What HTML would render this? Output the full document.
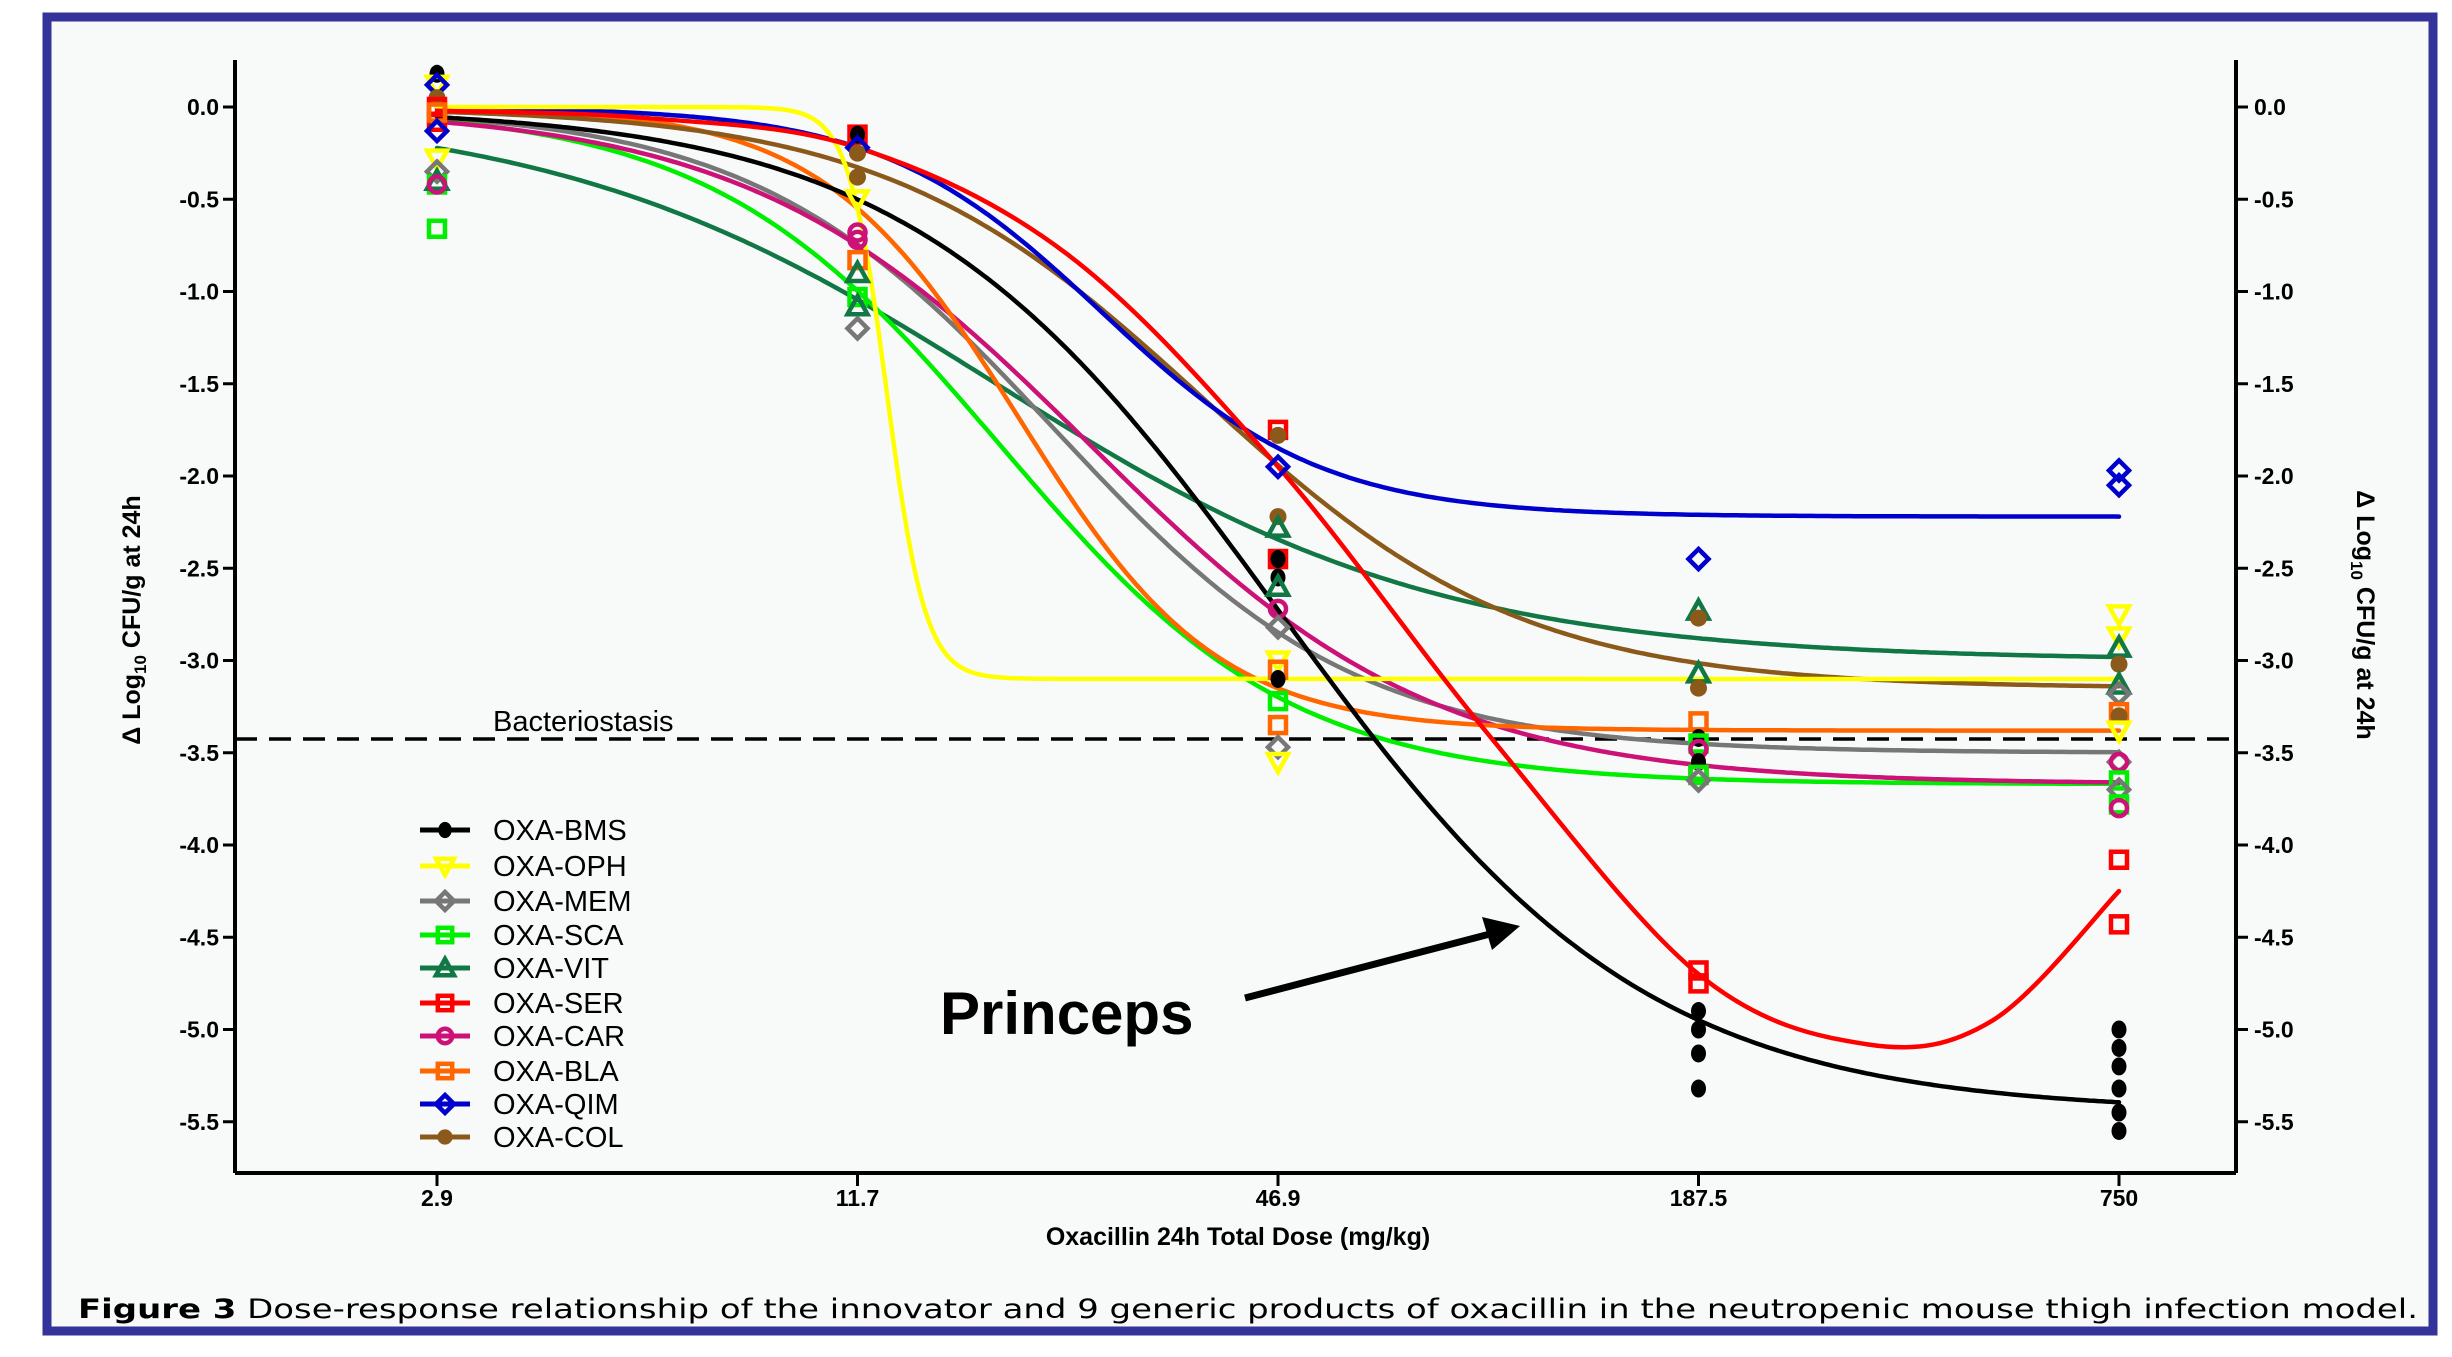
<!DOCTYPE html>
<html><head><meta charset="utf-8">
<style>
html,body{margin:0;padding:0;background:#fff;}
body{width:2452px;height:1357px;overflow:hidden;position:relative;font-family:"Liberation Sans",Arial,sans-serif;}
</style></head>
<body>
<svg id="s" width="2452" height="1357" xmlns="http://www.w3.org/2000/svg" style="position:absolute;left:0;top:0">
<rect x="47" y="17" width="2386" height="1314" fill="#f8fafa" stroke="#333399" stroke-width="9"/>
<g font-family="Liberation Sans, Arial, sans-serif" font-weight="bold" font-size="23" fill="#000">
<line x1="235" y1="60" x2="235" y2="1173" stroke="#000" stroke-width="4"/>
<line x1="2236" y1="60" x2="2236" y2="1173" stroke="#000" stroke-width="4"/>
<line x1="235" y1="1173" x2="2236" y2="1173" stroke="#000" stroke-width="4"/>
<g id="yt"></g>
<g id="xt"></g>
<text x="1238" y="1245" text-anchor="middle" font-size="25">Oxacillin 24h Total Dose (mg/kg)</text>
<text transform="translate(140,620) rotate(-90)" text-anchor="middle" font-size="25">Δ Log<tspan font-size="17" dy="6">10</tspan><tspan dy="-6"> CFU/g at 24h</tspan></text>
<text transform="translate(2357,615) rotate(90)" text-anchor="middle" font-size="25">Δ Log<tspan font-size="17" dy="6">10</tspan><tspan dy="-6"> CFU/g at 24h</tspan></text>
</g>
<line x1="235" y1="739" x2="2236" y2="739" stroke="#000" stroke-width="3.5" stroke-dasharray="22,12"/>
<text x="493" y="731" font-family="Liberation Sans, Arial, sans-serif" font-size="29" fill="#000">Bacteriostasis</text>
<g id="curves" fill="none" stroke-width="4.5" stroke-linecap="round"></g>
<g id="pts"></g>
<g id="leg" font-family="Liberation Sans, Arial, sans-serif" font-size="29" fill="#000"></g>
<text x="940" y="1034" font-family="Liberation Sans, Arial, sans-serif" font-weight="bold" font-size="60" fill="#000">Princeps</text>
<line x1="1245" y1="998" x2="1490" y2="934" stroke="#000" stroke-width="7"/>
<polygon points="1520,926 1482,917 1492,950" fill="#000"/>
<text x="1248" y="1318" text-anchor="middle" font-family="DejaVu Sans, Liberation Sans, sans-serif" font-size="27" fill="#000" textLength="2340" lengthAdjust="spacingAndGlyphs"><tspan font-weight="bold">Figure 3</tspan> Dose-response relationship of the innovator and 9 generic products of oxacillin in the neutropenic mouse thigh infection model.</text>
</svg>
<script>
const NS="http://www.w3.org/2000/svg";
const X0=437,DX=420.5,Y0=107,U=184.5;
const X=t=>X0+t*DX, Y=v=>Y0-v*U;
function el(tag,attrs,parent,txt){const e=document.createElementNS(NS,tag);for(const k in attrs)e.setAttribute(k,attrs[k]);if(txt!==undefined)e.textContent=txt;parent.appendChild(e);return e;}
const yt=document.getElementById('yt');
for(let i=0;i<=11;i++){const v=-i*0.5,y=Y(v);const lab=(i==0?"0.0":v.toFixed(1));
el('line',{x1:223,y1:y,x2:235,y2:y,stroke:'#000','stroke-width':3},yt);
el('line',{x1:2236,y1:y,x2:2248,y2:y,stroke:'#000','stroke-width':3},yt);
el('text',{x:219,y:y+8,'text-anchor':'end'},yt,lab);
el('text',{x:2254,y:y+8},yt,lab);}
const xt=document.getElementById('xt');
["2.9","11.7","46.9","187.5","750"].forEach((l,i)=>{const x=X(i);el('line',{x1:x,y1:1173,x2:x,y2:1186,stroke:'#000','stroke-width':3},xt);el('text',{x:x,y:1206,'text-anchor':'middle'},xt,l);});
const C={BMS:'#000',OPH:'#ffff00',MEM:'#777777',SCA:'#00ee00',VIT:'#117744',SER:'#ff0000',CAR:'#cc1177',BLA:'#ff6600',QIM:'#0000cc',COL:'#8b5a1a'};
const sig=(b,k,c)=>t=>b/(1+Math.exp(-k*(t-c)));
const F={
VIT:sig(-3.0,1.9,1.33),MEM:sig(-3.5,2.78,1.47),SCA:sig(-3.67,2.9,1.34),CAR:sig(-3.67,2.45,1.555),
BLA:sig(-3.38,4.26,1.385),COL:sig(-3.15,2.63,1.82),QIM:sig(-2.22,3.82,1.58),OPH:sig(-3.1,22,1.07),BMS:sig(-5.45,2.29,2.0)};
const cg=document.getElementById('curves');
for(const k in F){let d='';for(let i=0;i<=400;i++){const t=i/100;d+=(i?'L':'M')+X(t).toFixed(1)+','+Y(F[k](t)).toFixed(1);}el('path',{d:d,stroke:C[k]},cg);}
const sp=[[0,-0.02],[0.5,-0.06],[1,-0.22],[1.5,-0.8],[2,-1.95],[2.5,-3.4],[3,-4.7],[3.4,-5.08],[3.7,-4.95],[4,-4.25]];
let d='M'+X(sp[0][0])+','+Y(sp[0][1]);
for(let i=0;i<sp.length-1;i++){const p0=sp[Math.max(0,i-1)],p1=sp[i],p2=sp[i+1],p3=sp[Math.min(sp.length-1,i+2)];
const a=[X(p1[0])+(X(p2[0])-X(p0[0]))/6,Y(p1[1])+(Y(p2[1])-Y(p0[1]))/6],b=[X(p2[0])-(X(p3[0])-X(p1[0]))/6,Y(p2[1])-(Y(p3[1])-Y(p1[1]))/6];
d+=`C${a[0]},${a[1]} ${b[0]},${b[1]} ${X(p2[0])},${Y(p2[1])}`;}
el('path',{d:d,stroke:C.SER},cg);
const S={BMS:'c',OPH:'v',MEM:'d',SCA:'s',VIT:'t',SER:'s',CAR:'o',BLA:'s',QIM:'d',COL:'c'};
function mark(g,k,x,y,r){const c=C[k],s=S[k],sw=4.5;
if(s=='c'&&k=='BMS'){el('ellipse',{cx:x,cy:y,rx:r*0.75,ry:r*0.9,fill:c},g);}
else if(s=='c'){el('circle',{cx:x,cy:y,r:r*0.85,fill:c},g);}
else if(s=='s'){el('rect',{x:x-r*0.8,y:y-r*0.8,width:r*1.6,height:r*1.6,fill:'none',stroke:c,'stroke-width':sw},g);}
else if(s=='o'){el('circle',{cx:x,cy:y,r:r*0.8,fill:'none',stroke:c,'stroke-width':sw},g);}
else if(s=='d'){el('polygon',{points:`${x},${y-r} ${x+r},${y} ${x},${y+r} ${x-r},${y}`,fill:'none',stroke:c,'stroke-width':sw},g);}
else if(s=='t'){el('polygon',{points:`${x},${y-r} ${x+r},${y+r*0.8} ${x-r},${y+r*0.8}`,fill:'none',stroke:c,'stroke-width':sw},g);}
else if(s=='v'){el('polygon',{points:`${x},${y+r} ${x+r},${y-r*0.8} ${x-r},${y-r*0.8}`,fill:'none',stroke:c,'stroke-width':sw},g);}}
const P=[
[0,'BMS',0.18],[0,'OPH',0.12],[0,'QIM',0.12],[0,'COL',0.05],[0,'SER',0.0],[0,'SER',-0.08],[0,'BLA',-0.03],[0,'QIM',-0.13],[0,'OPH',-0.28],[0,'MEM',-0.35],[0,'SCA',-0.42],[0,'VIT',-0.4],[0,'CAR',-0.42],[0,'SCA',-0.66],
[1,'SER',-0.15],[1,'BMS',-0.15],[1,'QIM',-0.22],[1,'COL',-0.25],[1,'COL',-0.38],[1,'OPH',-0.5],[1,'CAR',-0.68],[1,'CAR',-0.72],[1,'BLA',-0.83],[1,'VIT',-0.9],[1,'SCA',-1.03],[1,'VIT',-1.08],[1,'MEM',-1.2],
[2,'SER',-1.75],[2,'COL',-1.78],[2,'QIM',-1.95],[2,'COL',-2.22],[2,'VIT',-2.28],[2,'SER',-2.45],[2,'BMS',-2.45],[2,'BMS',-2.55],[2,'VIT',-2.6],[2,'CAR',-2.72],[2,'MEM',-2.82],[2,'OPH',-3.0],[2,'BLA',-3.05],[2,'BMS',-3.1],[2,'SCA',-3.22],[2,'BLA',-3.35],[2,'MEM',-3.47],[2,'OPH',-3.55],
[3,'QIM',-2.45],[3,'VIT',-2.73],[3,'COL',-2.77],[3,'VIT',-3.07],[3,'COL',-3.15],[3,'BLA',-3.33],[3,'BMS',-3.42],[3,'SCA',-3.45],[3,'CAR',-3.48],[3,'BMS',-3.55],[3,'SER',-3.62],[3,'SCA',-3.62],[3,'MEM',-3.65],[3,'SER',-4.68],[3,'SER',-4.75],[3,'BMS',-4.9],[3,'BMS',-5.0],[3,'BMS',-5.13],[3,'BMS',-5.32],
[4,'QIM',-1.97],[4,'QIM',-2.05],[4,'OPH',-2.75],[4,'OPH',-2.87],[4,'VIT',-2.93],[4,'COL',-3.02],[4,'VIT',-3.13],[4,'MEM',-3.18],[4,'BLA',-3.28],[4,'COL',-3.3],[4,'OPH',-3.38],[4,'MEM',-3.55],[4,'CAR',-3.55],[4,'SCA',-3.65],[4,'MEM',-3.7],[4,'SCA',-3.78],[4,'CAR',-3.8],[4,'SER',-4.08],[4,'SER',-4.43],
[4,'BMS',-5.0],[4,'BMS',-5.1],[4,'BMS',-5.2],[4,'BMS',-5.32],[4,'BMS',-5.45],[4,'BMS',-5.55]];
const pg=document.getElementById('pts');
P.forEach(p=>mark(pg,p[1],X(p[0]),Y(p[2]),10));
const lg=document.getElementById('leg');
const names=['BMS','OPH','MEM','SCA','VIT','SER','CAR','BLA','QIM','COL'];
const ly=[830,866,901,935,968,1003,1036,1071,1104,1137];
names.forEach((n,i)=>{const y=ly[i];el('line',{x1:420,y1:y,x2:470,y2:y,stroke:C[n],'stroke-width':5},lg);mark(lg,n,445,y,9);el('text',{x:493,y:y+10},lg,'OXA-'+n);});
</script>
</body></html>
